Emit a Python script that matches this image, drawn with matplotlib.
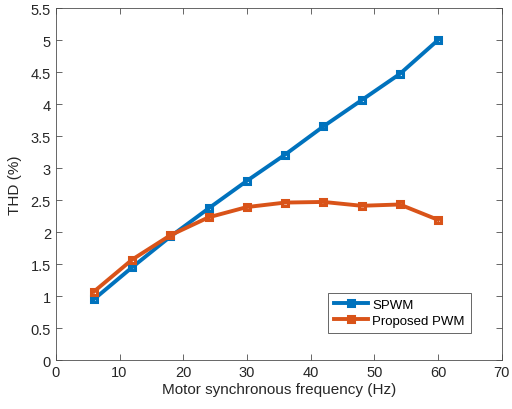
import matplotlib.pyplot as plt
from matplotlib.ticker import FuncFormatter

plt.rcParams['font.family'] = ['Liberation Sans', 'DejaVu Sans']

# Data
freq = [6, 12, 18, 24, 30, 36, 42, 48, 54, 60]
thd_spwm = [0.95, 1.45, 1.93, 2.37, 2.80, 3.21, 3.65, 4.06, 4.47, 5.00]
thd_proposed = [1.07, 1.57, 1.95, 2.23, 2.39, 2.46, 2.47, 2.41, 2.43, 2.19]

fig = plt.figure(figsize=(5.12, 4.10), dpi=100)
ax = fig.add_axes([0.109, 0.1195, 0.871, 0.8585])

style = dict(linewidth=2.8, marker='s', markersize=5, markerfacecolor='none', markeredgewidth=2.2)
ax.plot(freq, thd_spwm, color='#0072BD', label='SPWM', **style)
ax.plot(freq, thd_proposed, color='#D95319', label='Proposed PWM', **style)

ax.set_xlim(0, 70)
ax.set_ylim(0, 5.5)
ax.set_xticks(range(0, 71, 10))
ax.set_yticks([i * 0.5 for i in range(12)])
ax.yaxis.set_major_formatter(FuncFormatter(lambda v, p: f'{v:g}'))

ax.tick_params(direction='in', top=True, right=True, length=4, width=0.6,
               colors='#4d4d4d', labelsize=10.5, labelcolor='#262626')
for s in ax.spines.values():
    s.set_color('#4d4d4d')
    s.set_linewidth(0.6)

ax.set_xlabel('Motor synchronous frequency (Hz)', fontsize=11, color='#262626', labelpad=2)
ax.set_ylabel('THD (%)', fontsize=11, color='#262626', labelpad=6)

leg = ax.legend(loc='lower right', bbox_to_anchor=(0.945, 0.058), fontsize=9.5,
                fancybox=False, edgecolor='#4d4d4d', framealpha=1,
                handlelength=2.6, borderpad=0.45, labelspacing=0.3, handletextpad=0.3)
leg.get_frame().set_linewidth(0.6)
for h in leg.legend_handles:
    h.set_markerfacecolor(h.get_color())

fig.savefig('out.png', dpi=100)
